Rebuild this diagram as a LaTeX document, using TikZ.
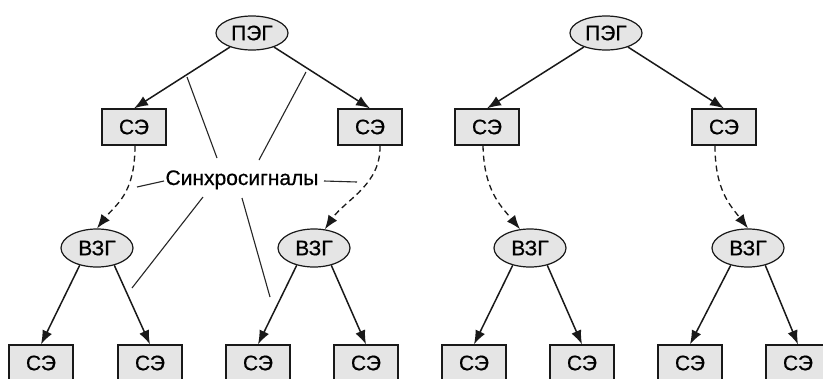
\documentclass[tikz,border=0pt]{standalone}
\usepackage{fontspec}
\setmainfont[FakeBold=0.6]{Liberation Sans}
\usetikzlibrary{arrows.meta,shapes.geometric}
\begin{document}
\begin{tikzpicture}[x=1pt,y=-1pt,
  every node/.style={font=\fontsize{21}{24}\selectfont},
  box/.style={draw=black!90,line width=1.2pt,fill=black!10,minimum width=64pt,minimum height=36pt,inner sep=0pt},
  gen/.style={ellipse,draw=black!90,line width=1.2pt,fill=black!10,minimum width=72pt,minimum height=34pt,inner sep=0pt},
  zgen/.style={gen,minimum height=38pt},
  arr/.style={draw=black!90,line width=1.5pt,-{Latex[length=14pt,width=10.5pt]}},
  sarr/.style={arr,line width=1.3pt,dash pattern=on 6pt off 4pt},
  lbl/.style={draw=black!85,line width=1.1pt}]
\fill[white] (0,0) rectangle (823,378);
\clip (0,0) rectangle (823,378);

% left tree
\node[gen] (pegL) at (252,33) {ПЭГ};
\node[box] (seLL) at (134,127) {СЭ};
\node[box] (seLR) at (370,127) {СЭ};
\node[zgen] (vzgLL) at (97,248) {ВЗГ};
\node[zgen] (vzgLR) at (314,248) {ВЗГ};
\node[box] (b1) at (41,363) {СЭ};
\node[box] (b2) at (150,363) {СЭ};
\node[box] (b3) at (258,363) {СЭ};
\node[box] (b4) at (366,363) {СЭ};

% right tree
\node[gen] (pegR) at (606,33) {ПЭГ};
\node[box] (seRL) at (487,127) {СЭ};
\node[box] (seRR) at (724,127) {СЭ};
\node[zgen] (vzgRL) at (530,248) {ВЗГ};
\node[zgen] (vzgRR) at (748,248) {ВЗГ};
\node[box] (b5) at (474,363) {СЭ};
\node[box] (b6) at (582,363) {СЭ};
\node[box] (b7) at (690,363) {СЭ};
\node[box] (b8) at (798,363) {СЭ};

% label
\node[anchor=base,inner sep=0pt] (sync) at (242,185) {Синхросигналы};

% solid arrows
\draw[arr] (pegL) -- (seLL.north);
\draw[arr] (pegL) -- (seLR.north);
\draw[arr] (vzgLL.225) -- (b1.north);
\draw[arr] (vzgLL.315) -- (b2.north);
\draw[arr] (vzgLR.225) -- (b3.north);
\draw[arr] (vzgLR.315) -- (b4.north);
\draw[arr] (pegR) -- (seRL.north);
\draw[arr] (pegR) -- (seRR.north);
\draw[arr] (vzgRL.225) -- (b5.north);
\draw[arr] (vzgRL.315) -- (b6.north);
\draw[arr] (vzgRR.225) -- (b7.north);
\draw[arr] (vzgRR.315) -- (b8.north);

% dashed sync arrows
\draw[sarr] ([xshift=1pt]seLL.south) .. controls (135,195) and (115,205) .. (vzgLL.north);
\draw[sarr] ([xshift=10pt]seLR.south) .. controls (381,185) and (345,200) .. (vzgLR.60);
\draw[sarr] ([xshift=-4pt]seRL.south) .. controls (484,190) and (500,205) .. (vzgRL.118);
\draw[sarr] ([xshift=-9pt]seRR.south) .. controls (715,190) and (730,205) .. (vzgRR.north);

% label leader lines
\coordinate (l1a) at (187,77);  \coordinate (l1b) at (217,158);
\coordinate (l2a) at (306,72);  \coordinate (l2b) at (259,160);
\coordinate (l3a) at (164,181); \coordinate (l3b) at (137,187);
\coordinate (l4a) at (324,181); \coordinate (l4b) at (357,182);
\coordinate (l5a) at (203,197); \coordinate (l5b) at (132,288);
\coordinate (l6a) at (242,198); \coordinate (l6b) at (270,297);
\draw[lbl] (l1a) -- (l1b);
\draw[lbl] (l2a) -- (l2b);
\draw[lbl] (l3a) -- (l3b);
\draw[lbl] (l4a) -- (l4b);
\draw[lbl] (l5a) -- (l5b);
\draw[lbl] (l6a) -- (l6b);
\end{tikzpicture}
\end{document}
